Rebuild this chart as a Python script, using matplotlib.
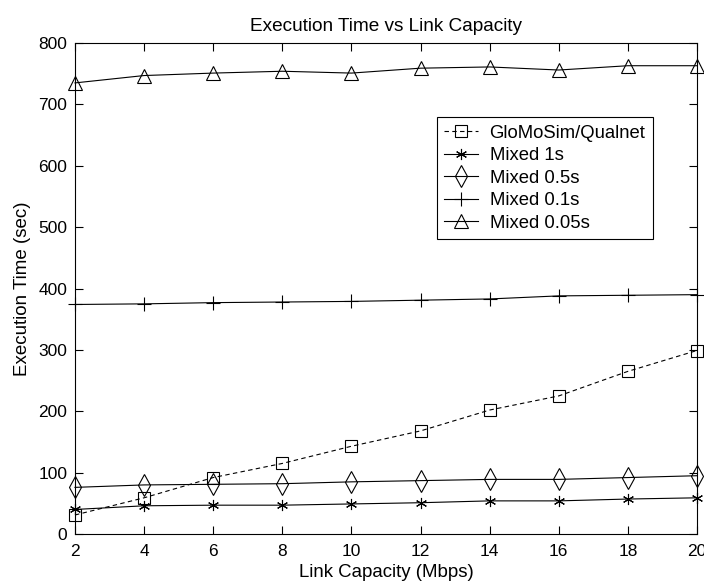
import matplotlib
matplotlib.use("Agg")
import matplotlib.pyplot as plt

plt.rcParams['font.family'] = ['Liberation Sans', 'DejaVu Sans']

# Datos
capacidad = [2, 4, 6, 8, 10, 12, 14, 16, 18, 20]
glomosim = [31, 59, 92, 115, 143, 168, 202, 225, 265, 299]
mixed_1s = [40, 46, 47, 47, 49, 51, 54, 54, 57, 59]
mixed_05s = [76, 80, 81, 82, 85, 87, 89, 89, 92, 95]
mixed_01s = [374, 375, 377, 378, 379, 381, 383, 388, 389, 390]
mixed_005s = [735, 747, 751, 754, 751, 759, 761, 756, 763, 763]

fig = plt.figure(figsize=(7.04, 5.86), dpi=100)
ax = fig.add_axes([0.1065, 0.0887, 0.8835, 0.8379])

estilo = dict(color='black', linewidth=0.8, markerfacecolor='none', markeredgecolor='black',
              markeredgewidth=0.8, clip_on=False)
ax.plot(capacidad, glomosim, linestyle=(0, (4, 3)), marker='s', markersize=8.6, label='GloMoSim/Qualnet', **estilo)
ax.plot(capacidad, mixed_1s, linestyle='-', marker=(6, 2, 0), markersize=8, label='Mixed 1s', **estilo)
ax.plot(capacidad, mixed_05s, linestyle='-', marker='d', markersize=11, label='Mixed 0.5s', **estilo)
ax.plot(capacidad, mixed_01s, linestyle='-', marker='+', markersize=10.5, label='Mixed 0.1s', **estilo)
ax.plot(capacidad, mixed_005s, linestyle='-', marker='^', markersize=9.5, label='Mixed 0.05s', **estilo)

ax.set_xlim(2, 20)
ax.set_ylim(0, 800)
ax.set_xticks(capacidad)
ax.set_yticks(range(0, 801, 100))
ax.tick_params(direction='in', top=True, right=True, labelsize=12.5, length=5.5, width=0.8)
ax.tick_params(axis='x', pad=7)
ax.tick_params(axis='y', pad=5.5)
for s in ax.spines.values():
    s.set_linewidth(0.8)

ax.set_title('Execution Time vs Link Capacity', fontsize=13.7, pad=9)
ax.set_xlabel('Link Capacity (Mbps)', fontsize=13.4, labelpad=4)
ax.set_ylabel('Execution Time (sec)', fontsize=13.5, labelpad=5)

leg = ax.legend(loc='upper left', bbox_to_anchor=(0.582, 0.849), borderaxespad=0,
                fancybox=False, framealpha=1, edgecolor='black', fontsize=13.3,
                handlelength=1.8, handletextpad=0.65, labelspacing=0.3, borderpad=0.4)
leg.get_frame().set_linewidth(0.8)

plt.savefig('out.png', dpi=100)
